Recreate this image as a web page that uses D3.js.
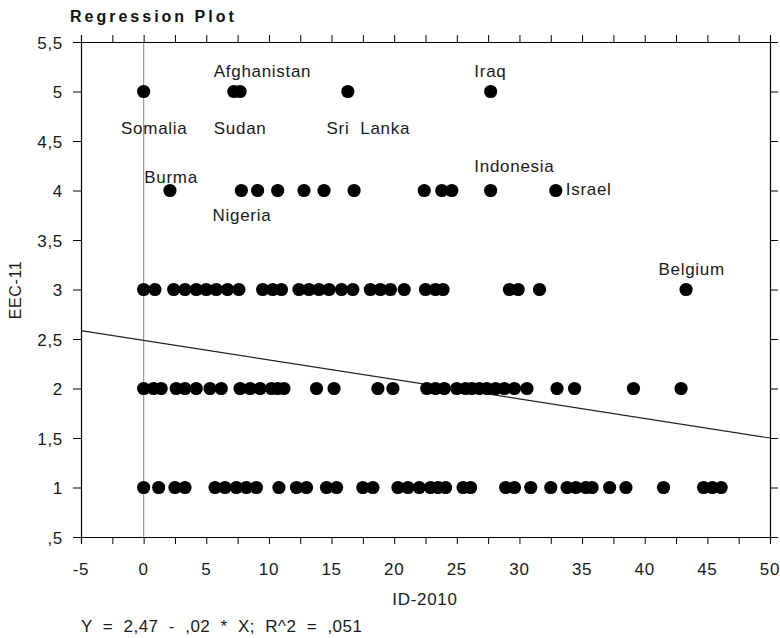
<!DOCTYPE html>
<html><head><meta charset="utf-8">
<script src="https://cdn.jsdelivr.net/npm/d3@7"></script>
<style>body{margin:0;background:#fff}svg{display:block}</style>
</head><body>
<svg id="c" width="780" height="638"></svg>
<script>
const row5 = [0, 7.2, 7.7, 16.3, 27.7];
const row4 = [2.1, 7.8, 9.1, 10.7, 12.8, 14.4, 16.8, 22.4, 23.8, 24.6, 27.7, 32.9];
const row3 = [0, 0.9, 2.4, 3.3, 4.2, 5.0, 5.8, 6.7, 7.6, 9.5, 10.3, 11.0, 12.4, 13.2, 14.0, 14.8, 15.8, 16.7, 18.1, 18.9, 19.7, 20.8, 22.5, 23.3, 23.9, 29.2, 29.9, 31.6, 43.3];
const row2 = [0, 0.8, 1.4, 2.6, 3.3, 4.2, 5.3, 6.2, 7.7, 8.5, 9.3, 10.2, 10.7, 11.2, 13.8, 15.2, 18.7, 19.9, 22.6, 23.3, 24.0, 25.0, 25.7, 26.2, 26.8, 27.4, 28.1, 28.8, 29.6, 30.6, 33.0, 34.4, 39.1, 42.9];
const row1 = [0, 1.2, 2.5, 3.3, 5.7, 6.5, 7.4, 8.2, 9.0, 10.8, 12.2, 13.0, 14.6, 15.4, 17.5, 18.3, 20.3, 21.1, 22.0, 22.9, 23.5, 24.1, 25.5, 26.1, 28.9, 29.6, 30.9, 32.5, 33.8, 34.5, 35.3, 35.8, 37.2, 38.5, 41.5, 44.7, 45.4, 46.1];
const rowValues = [5, 4, 3, 2, 1];
const labels = [
  {name: "Somalia", x: -1.8, y: 4.57},
  {name: "Afghanistan", x: 5.6, y: 5.15},
  {name: "Sudan", x: 5.6, y: 4.57},
  {name: "Sri  Lanka", x: 14.6, y: 4.57},
  {name: "Iraq", x: 26.4, y: 5.15},
  {name: "Burma", x: 0.05, y: 4.08},
  {name: "Nigeria", x: 5.5, y: 3.69},
  {name: "Indonesia", x: 26.4, y: 4.19},
  {name: "Israel", x: 33.7, y: 3.95},
  {name: "Belgium", x: 41.1, y: 3.15}
];
const regLine = [{x: -5, y: 2.585}, {x: 50, y: 1.50}];
const xTicks = [-5, 0, 5, 10, 15, 20, 25, 30, 35, 40, 45, 50];
const yTicks = [0.5, 1, 1.5, 2, 2.5, 3, 3.5, 4, 4.5, 5, 5.5];
const yTickLabels = [",5", "1", "1,5", "2", "2,5", "3", "3,5", "4", "4,5", "5", "5,5"];

const svg = d3.select("#c");
const L = 81, R = 770, T = 42, B = 537;
const x = d3.scaleLinear().domain([-5, 50]).range([L, R]);
const y = d3.scaleLinear().domain([0.5, 5.5]).range([B, T]);
const font = "'Liberation Sans', Arial, sans-serif";
const ink = "#1a1a1a";

// title
svg.append("text").attr("x", 70).attr("y", 22).attr("font-family", font)
  .attr("font-weight", "bold").attr("font-size", 16).attr("letter-spacing", 3)
  .attr("fill", "#111").text("Regression Plot");

// zero reference line
svg.append("line").attr("x1", x(0)).attr("x2", x(0)).attr("y1", T).attr("y2", B)
  .attr("stroke", "#999").attr("stroke-width", 1.2);

// regression line
svg.append("path").datum(regLine)
  .attr("d", d3.line().x(d => x(d.x)).y(d => y(d.y)))
  .attr("stroke", "#222").attr("stroke-width", 1.2).attr("fill", "none");

// axes
const minor = d3.range(-5, 50.01, 2.5);
const gBottom = svg.append("g").attr("transform", `translate(0,${B})`)
  .call(d3.axisBottom(x).tickValues(minor).tickSize(7).tickFormat(""));
const gTop = svg.append("g").attr("transform", `translate(0,${T})`)
  .call(d3.axisTop(x).tickValues(minor).tickSize(7).tickFormat(""));
const gLeft = svg.append("g").attr("transform", `translate(${L},0)`)
  .call(d3.axisLeft(y).tickValues(yTicks).tickSize(8).tickFormat(""));
const gRight = svg.append("g").attr("transform", `translate(${R},0)`)
  .call(d3.axisRight(y).tickValues(yTicks).tickSize(8).tickFormat(""));
[gBottom, gTop, gLeft, gRight].forEach(g => {
  g.select(".domain").attr("stroke", "#000").attr("stroke-width", 1.2);
  g.selectAll(".tick line").attr("stroke", "#000").attr("stroke-width", 1);
});

// tick labels
svg.append("g").selectAll("text").data(xTicks).join("text")
  .attr("x", d => x(d)).attr("y", 575).attr("text-anchor", "middle")
  .attr("font-family", font).attr("font-size", 17).attr("letter-spacing", 0.7).attr("fill", ink)
  .text(d => String(d));
svg.append("g").selectAll("text").data(yTicks).join("text")
  .attr("x", 63).attr("y", d => y(d) + 6.5).attr("text-anchor", "end")
  .attr("font-family", font).attr("font-size", 17).attr("letter-spacing", 0.7).attr("fill", ink)
  .text((d, i) => yTickLabels[i]);

// axis titles
svg.append("text").attr("x", 425).attr("y", 605).attr("text-anchor", "middle")
  .attr("font-family", font).attr("font-size", 17).attr("letter-spacing", 0.7).attr("fill", ink).text("ID-2010");
svg.append("text").attr("transform", "translate(21,290) rotate(-90)").attr("text-anchor", "middle")
  .attr("font-family", font).attr("font-size", 16).attr("letter-spacing", 0.6).attr("fill", ink).text("EEC-11");
svg.append("text").attr("x", 81).attr("y", 632)
  .attr("font-family", font).attr("font-size", 17).attr("letter-spacing", 0.45).attr("fill", ink)
  .style("white-space", "pre")
  .text("Y  =  2,47  -  ,02  *  X;  R^2  =  ,051");

// points
const rows = [row5, row4, row3, row2, row1];
const pts = [];
rows.forEach((r, i) => r.forEach(v => pts.push({x: v, y: rowValues[i]})));
svg.append("g").selectAll("circle").data(pts).join("circle")
  .attr("cx", d => x(d.x)).attr("cy", d => y(d.y)).attr("r", 6.6).attr("fill", "#000");

// country labels
svg.append("g").selectAll("text").data(labels).join("text")
  .attr("x", d => x(d.x)).attr("y", d => y(d.y))
  .attr("font-family", font).attr("font-size", 17).attr("fill", ink)
  .attr("letter-spacing", 0.7)
  .style("white-space", "pre")
  .text(d => d.name);
</script>
</body></html>
